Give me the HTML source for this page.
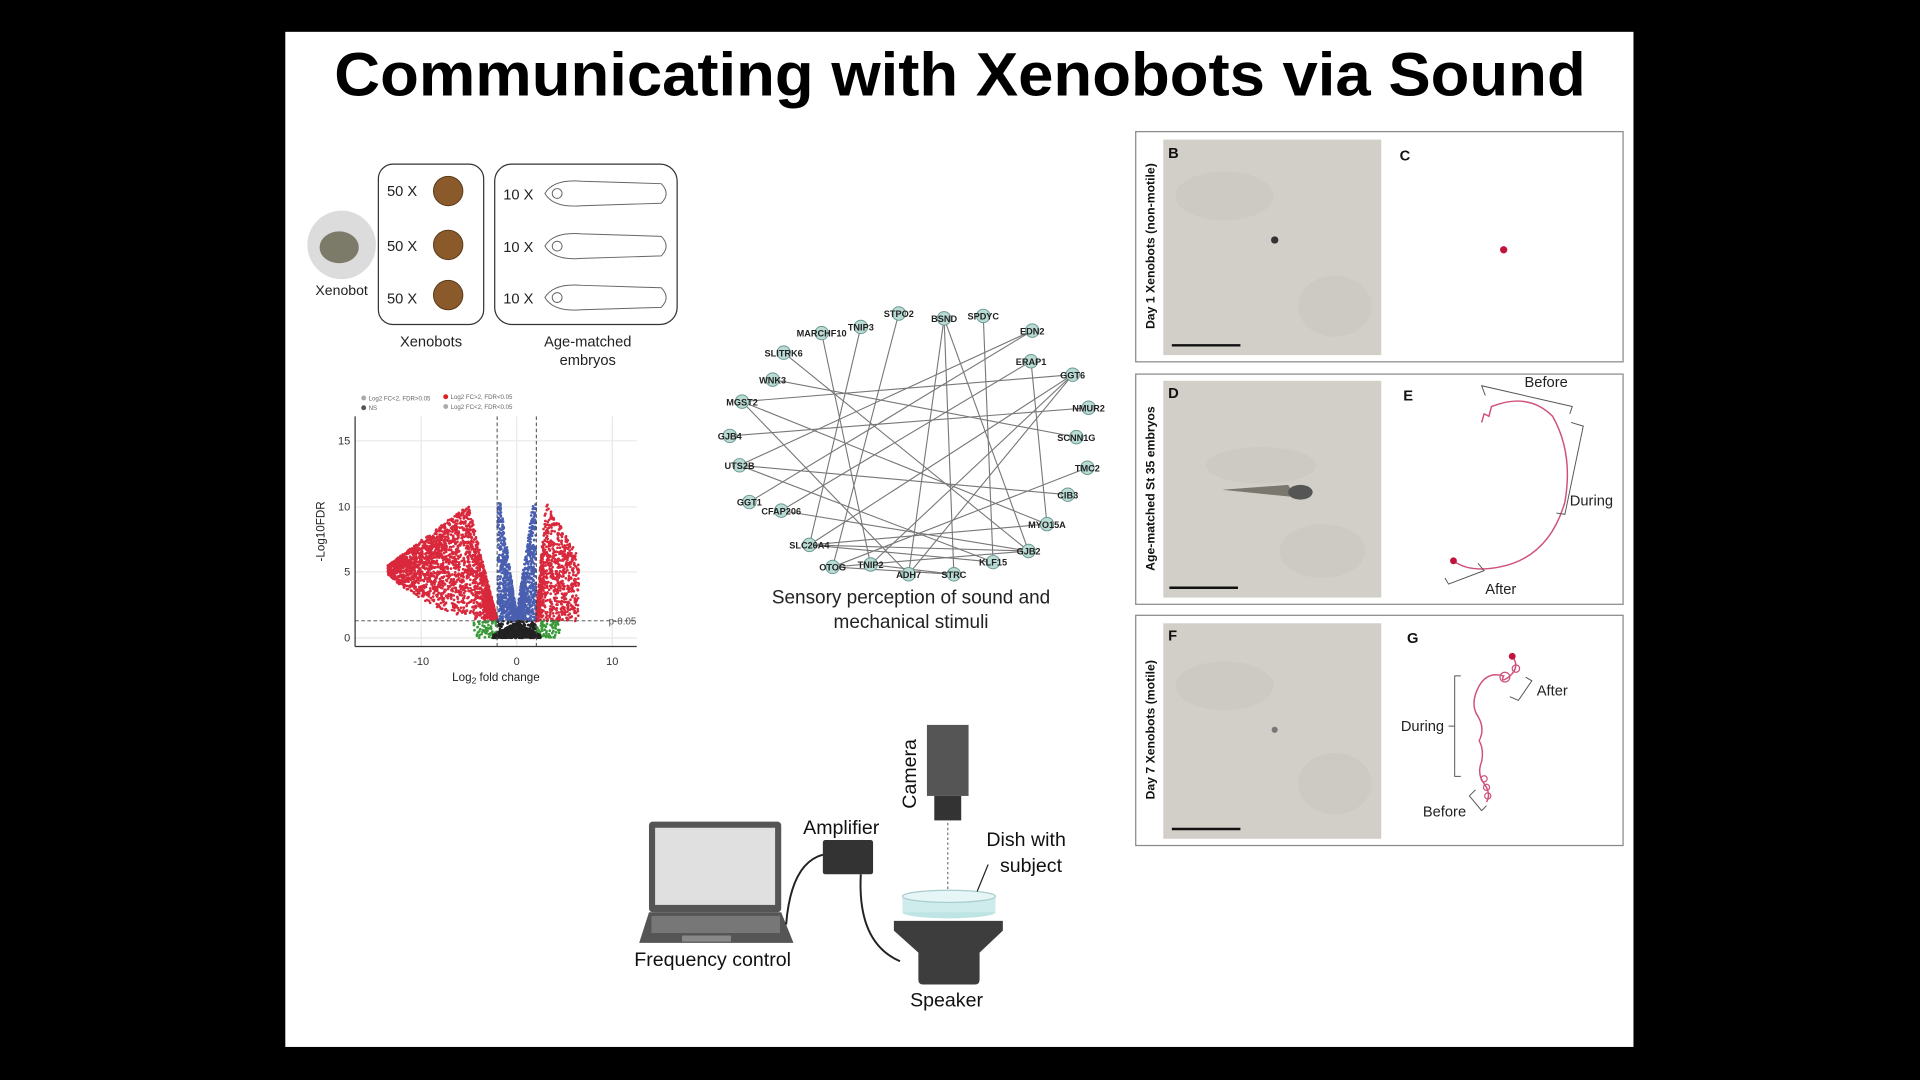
<!DOCTYPE html>
<html><head><meta charset="utf-8"><style>
html,body{margin:0;padding:0;background:#000;overflow:hidden}
svg{display:block}
text{font-family:"Liberation Sans",Arial,sans-serif}
</style></head><body>
<svg id="s" width="1920" height="1080" viewBox="0 0 1568 882" xmlns="http://www.w3.org/2000/svg">
<rect width="1568" height="882" fill="#000"/>
<rect x="233" y="26" width="1101" height="829" fill="#fff"/>
<text x="784" y="78" text-anchor="middle" font-size="50" font-weight="bold" fill="#000" textLength="1022" lengthAdjust="spacingAndGlyphs">Communicating with Xenobots via Sound</text>

<!-- Xenobot / boxes -->
<circle cx="279" cy="200" r="28" fill="#dcdcdc"/>
<ellipse cx="277" cy="202" rx="16" ry="13" fill="#7c7a68"/>
<text x="279" y="241" text-anchor="middle" font-size="11.5" fill="#222">Xenobot</text>
<rect x="309" y="134" width="86" height="131" rx="12" fill="none" stroke="#333" stroke-width="1"/>
<rect x="404" y="134" width="149" height="131" rx="14" fill="none" stroke="#333" stroke-width="1"/>
<g font-size="12" fill="#222">
<text x="316" y="160">50 X</text><text x="316" y="205">50 X</text><text x="316" y="248">50 X</text>
<text x="411" y="163">10 X</text><text x="411" y="206">10 X</text><text x="411" y="248">10 X</text>
</g>
<g fill="#8b5a2b" stroke="#5a3a1a" stroke-width="0.8">
<ellipse cx="366" cy="156" rx="12" ry="12"/><ellipse cx="366" cy="200" rx="12" ry="12"/><ellipse cx="366" cy="241" rx="12" ry="12"/>
</g>
<g fill="none" stroke="#666" stroke-width="0.8">
<path d="M445 158 Q452 146 475 148 L540 150 Q548 158 540 166 L475 168 Q452 170 445 158Z"/>
<path d="M445 201 Q452 189 475 191 L540 193 Q548 201 540 209 L475 211 Q452 213 445 201Z"/>
<path d="M445 243 Q452 231 475 233 L540 235 Q548 243 540 251 L475 253 Q452 255 445 243Z"/>
<circle cx="455" cy="158" r="4"/><circle cx="455" cy="201" r="4"/><circle cx="455" cy="243" r="4"/>
</g>
<text x="352" y="283" text-anchor="middle" font-size="12" fill="#222">Xenobots</text>
<text x="480" y="283" text-anchor="middle" font-size="12" fill="#222">Age-matched</text>
<text x="480" y="298" text-anchor="middle" font-size="12" fill="#222">embryos</text>

<!-- Volcano -->
<g stroke="#e8e8e8" stroke-width="1">
<line x1="290" y1="360" x2="520" y2="360"/><line x1="290" y1="414" x2="520" y2="414"/><line x1="290" y1="467" x2="520" y2="467"/><line x1="290" y1="521" x2="520" y2="521"/>
<line x1="344" y1="340" x2="344" y2="528"/><line x1="422" y1="340" x2="422" y2="528"/><line x1="500" y1="340" x2="500" y2="528"/>
</g>
<g id="pts"></g>
<g stroke="#444" stroke-width="0.8" stroke-dasharray="3,2">
<line x1="406" y1="340" x2="406" y2="528"/><line x1="438" y1="340" x2="438" y2="528"/><line x1="290" y1="507" x2="520" y2="507"/>
</g>
<line x1="290" y1="340" x2="290" y2="528" stroke="#333"/><line x1="290" y1="528" x2="520" y2="528" stroke="#333"/>
<g font-size="9" fill="#333" text-anchor="end">
<text x="286" y="363">15</text><text x="286" y="417">10</text><text x="286" y="470">5</text><text x="286" y="524">0</text></g>
<g font-size="9" fill="#333" text-anchor="middle"><text x="344" y="543">-10</text><text x="422" y="543">0</text><text x="500" y="543">10</text></g>
<text x="405" y="556" text-anchor="middle" font-size="9.5" fill="#222">Log<tspan font-size="7" dy="2">2</tspan><tspan dy="-2"> fold change</tspan></text>
<text transform="translate(265,434) rotate(-90)" text-anchor="middle" font-size="9.5" fill="#222">-Log10FDR</text>
<text x="497" y="510" font-size="8" fill="#555">p-0.05</text>
<g font-size="5" fill="#666"><circle cx="297" cy="325" r="2" fill="#aaa"/><text x="301" y="327">Log2 FC&lt;2, FDR&gt;0.05</text>
<circle cx="364" cy="324" r="2" fill="#d22"/><text x="368" y="326">Log2 FC&gt;2, FDR&lt;0.05</text>
<circle cx="297" cy="333" r="2" fill="#555"/><text x="301" y="335">NS</text>
<circle cx="364" cy="332" r="2" fill="#aaa"/><text x="368" y="334">Log2 FC&lt;2, FDR&lt;0.05</text></g>

<!-- Network -->
<g id="edges" stroke="#777" stroke-width="0.9"></g>
<g id="nodes"></g>
<text x="744" y="493" text-anchor="middle" font-size="15.5" fill="#222">Sensory perception of sound and</text>
<text x="744" y="513" text-anchor="middle" font-size="15.5" fill="#222">mechanical stimuli</text>

<!-- Right panels -->
<g stroke="#888" stroke-width="1" fill="#fff">
<rect x="927.5" y="107.5" width="398" height="188"/>
<rect x="927.5" y="305.5" width="398" height="188"/>
<rect x="927.5" y="502.5" width="398" height="188"/>
</g>
<g fill="#d2cfc9">
<rect x="950" y="114" width="178" height="176"/><rect x="950" y="311" width="178" height="177"/><rect x="950" y="509" width="178" height="176"/>
</g>
<g fill="#c9c6bf" opacity="0.6">
<ellipse cx="1000" cy="160" rx="40" ry="20"/><ellipse cx="1090" cy="250" rx="30" ry="25"/>
<ellipse cx="1030" cy="380" rx="45" ry="15"/><ellipse cx="1080" cy="450" rx="35" ry="22"/>
<ellipse cx="1000" cy="560" rx="40" ry="20"/><ellipse cx="1090" cy="640" rx="30" ry="25"/>
</g>
<g stroke="#111" stroke-width="2"><line x1="957" y1="282" x2="1013" y2="282"/><line x1="955" y1="480" x2="1011" y2="480"/><line x1="957" y1="677" x2="1013" y2="677"/></g>
<g font-size="12" font-weight="bold" fill="#111">
<text x="954" y="129">B</text><text x="1143" y="131">C</text><text x="954" y="325">D</text><text x="1146" y="327">E</text><text x="954" y="523">F</text><text x="1149" y="525">G</text></g>
<g font-size="10" font-weight="bold" fill="#111" text-anchor="middle">
<text transform="translate(943,201) rotate(-90)">Day 1 Xenobots (non-motile)</text>
<text transform="translate(943,399) rotate(-90)">Age-matched St 35 embryos</text>
<text transform="translate(943,596) rotate(-90)">Day 7 Xenobots (motile)</text></g>
<circle cx="1041" cy="196" r="3" fill="#333"/>
<circle cx="1228" cy="204" r="3" fill="#c0143c"/>
<path d="M998 400 L1052 396 L1058 406 Z" fill="#7a776e"/><ellipse cx="1062" cy="402" rx="10" ry="6" fill="#555"/>
<circle cx="1041" cy="596" r="2.5" fill="#777"/>
<!-- E -->
<path d="M1210 345 L1212 338 L1216 340 L1218 332 L1224 330 Q1250 322 1268 340 Q1285 370 1278 410 Q1265 455 1225 463 Q1200 468 1187 458" fill="none" stroke="#d0507a" stroke-width="1.2"/>
<circle cx="1187" cy="458" r="2.8" fill="#c0143c"/>
<g fill="none" stroke="#555" stroke-width="0.8">
<path d="M1213 323 L1210 315 L1284 332 L1282 338"/><path d="M1283 345 L1293 348 L1278 420 L1271 419"/><path d="M1207 460 L1212 466 L1183 477 L1180 472"/></g>
<g font-size="12" fill="#222"><text x="1245" y="316">Before</text><text x="1282" y="413">During</text><text x="1213" y="485">After</text>
<text x="1144" y="597">During</text><text x="1255" y="568">After</text><text x="1162" y="667">Before</text></g>
<!-- G -->
<path d="M1235 536 Q1242 545 1232 553 Q1225 558 1228 552 Q1215 548 1208 560 Q1200 575 1207 585 Q1213 595 1208 605 Q1212 612 1210 622 Q1206 632 1212 640 Q1218 648 1214 655" fill="none" stroke="#d0507a" stroke-width="1.2"/>
<circle cx="1229" cy="553" r="4" fill="none" stroke="#d0507a"/><circle cx="1238" cy="546" r="3" fill="none" stroke="#d0507a"/>
<circle cx="1212" cy="636" r="2.5" fill="none" stroke="#d0507a"/><circle cx="1214" cy="643" r="2.5" fill="none" stroke="#d0507a"/><circle cx="1215" cy="650" r="2.5" fill="none" stroke="#d0507a"/>
<circle cx="1235" cy="536" r="2.8" fill="#c0143c"/>
<g fill="none" stroke="#555" stroke-width="0.8">
<path d="M1193 552 L1188 552 L1188 634 L1193 634"/><path d="M1188 593 L1183 593"/>
<path d="M1246 553 L1251 556 L1240 572 L1233 569"/><path d="M1205 645 L1200 650 L1210 662 L1214 658"/></g>

<!-- Setup -->
<rect x="530" y="671" width="108" height="74" rx="3" fill="#555"/>
<rect x="535" y="676" width="98" height="63" fill="#e0e0e0"/>
<path d="M530 745 L638 745 L648 770 L522 770 Z" fill="#555"/>
<rect x="532" y="748" width="105" height="14" fill="#777"/>
<rect x="557" y="764" width="40" height="5" fill="#888"/>
<rect x="672" y="686" width="41" height="28" rx="2" fill="#333"/>
<rect x="757" y="592" width="34" height="58" fill="#555"/>
<rect x="763" y="650" width="22" height="20" fill="#333"/>
<line x1="774" y1="672" x2="774" y2="730" stroke="#777" stroke-dasharray="2,2"/>
<ellipse cx="775" cy="745" rx="38" ry="5" fill="#bfe4e4"/>
<rect x="737" y="732" width="76" height="13" fill="#cdeceb"/>
<ellipse cx="775" cy="732" rx="38" ry="5" fill="#e6f6f6" stroke="#aacccc"/>
<path d="M730 752 L819 752 L819 760 L800 778 L800 800 Q800 804 796 804 L754 804 Q750 804 750 800 L750 778 L730 760 Z" fill="#3d3d3d"/>
<g fill="none" stroke="#222" stroke-width="1.6">
<path d="M642 755 Q646 705 672 698"/><path d="M703 714 Q700 770 735 785"/></g>
<line x1="798" y1="728" x2="807" y2="706" stroke="#222"/>
<g font-size="16" fill="#111">
<text x="582" y="789" text-anchor="middle">Frequency control</text>
<text x="687" y="681" text-anchor="middle">Amplifier</text>
<text transform="translate(748,632) rotate(-90)" text-anchor="middle">Camera</text>
<text x="838" y="691" text-anchor="middle">Dish with</text>
<text x="842" y="712" text-anchor="middle">subject</text>
<text x="773" y="822" text-anchor="middle">Speaker</text></g>
</svg>
<script>
(function(){
var seed=7;function r(){seed=(seed*16807)%2147483647;return seed/2147483647;}
function px(x){return 422+x*7.8;}function py(y){return 521-y*10.7;}
var g=document.getElementById('pts'),h='';
function dot(x,y,c){h+='<circle cx="'+px(x).toFixed(1)+'" cy="'+py(y).toFixed(1)+'" r="1.1" fill="'+c+'"/>';}
for(var i=0;i<2400;i++){var x=-2-Math.pow(r(),1.3)*11.5;var t=(-x-2)/11.5;var low=1.3+t*t*3.5;var top=x>-5?1.3+(-x-2)*2.9:10.2-(-x-5)*0.55;var y=low+Math.pow(r(),0.8)*(top-low);dot(x,y,'#d9283c');}
for(var i=0;i<900;i++){var x=2+Math.pow(r(),1.6)*4.5;var top=x<3?1.3+(x-2)*9:10.5-(x-3)*1.2;var y=1.3+r()*(top-1.3);dot(x,y,'#d9283c');}
for(var i=0;i<1200;i++){var x=(r()-0.5)*4;var y=1.3+r()*Math.min(9,Math.abs(x)*5+0.5);dot(x,y,'#4a5fb0');}
for(var i=0;i<250;i++){var x=(r()-0.5)*9;dot(x,r()*1.3,Math.abs(x)>2?'#3a9a3a':'#222');}
for(var i=0;i<500;i++){var x=(r()-0.5)*5;dot(x,r()*1.2*(1-Math.abs(x)/3),'#222');}
g.innerHTML=h;
var N={STPO2:[734,256],BSND:[771,260],SPDYC:[803,258],EDN2:[843,270],ERAP1:[842,295],GGT6:[876,306],NMUR2:[889,333],SCNN1G:[879,357],TMC2:[888,382],CIB3:[872,404],MYO15A:[855,428],GJB2:[840,450],KLF15:[811,459],STRC:[779,469],ADH7:[742,469],TNIP2:[711,461],OTOG:[680,463],SLC26A4:[661,445],CFAP206:[638,417],GGT1:[612,410],UTS2B:[604,380],GJB4:[596,356],MGST2:[606,328],WNK3:[631,310],SLITRK6:[640,288],MARCHF10:[671,272],TNIP3:[703,267]};
var E=[["STPO2","OTOG"],["BSND","ADH7"],["BSND","STRC"],["BSND","GJB2"],["EDN2","UTS2B"],["ERAP1","CFAP206"],["GGT6","MGST2"],["GGT6","TNIP2"],["GGT6","SLC26A4"],["NMUR2","GJB4"],["SCNN1G","WNK3"],["TMC2","OTOG"],["CIB3","UTS2B"],["MYO15A","SLC26A4"],["MYO15A","MGST2"],["GJB2","SLC26A4"],["GJB2","OTOG"],["GJB2","SLITRK6"],["KLF15","SLC26A4"],["KLF15","UTS2B"],["STRC","TNIP2"],["STRC","OTOG"],["ADH7","MGST2"],["TNIP3","SLC26A4"],["SPDYC","KLF15"],["ERAP1","MYO15A"],["GGT1","EDN2"],["CFAP206","GJB2"],["TNIP2","MARCHF10"],["GGT6","ADH7"]];
var eg=document.getElementById('edges'),eh='';
E.forEach(function(e){var a=N[e[0]],b=N[e[1]];eh+='<line x1="'+a[0]+'" y1="'+a[1]+'" x2="'+b[0]+'" y2="'+b[1]+'"/>';});
eg.innerHTML=eh;
var ng=document.getElementById('nodes'),nh='';
for(var k in N){var p=N[k];nh+='<circle cx="'+p[0]+'" cy="'+p[1]+'" r="5.5" fill="#b9dbd4" stroke="#6a9a92" stroke-width="0.8"/><text x="'+p[0]+'" y="'+(p[1]+3)+'" text-anchor="middle" font-size="7.5" font-weight="bold" fill="#222">'+k+'</text>';}
ng.innerHTML=nh;
})();
</script>
</body></html>
